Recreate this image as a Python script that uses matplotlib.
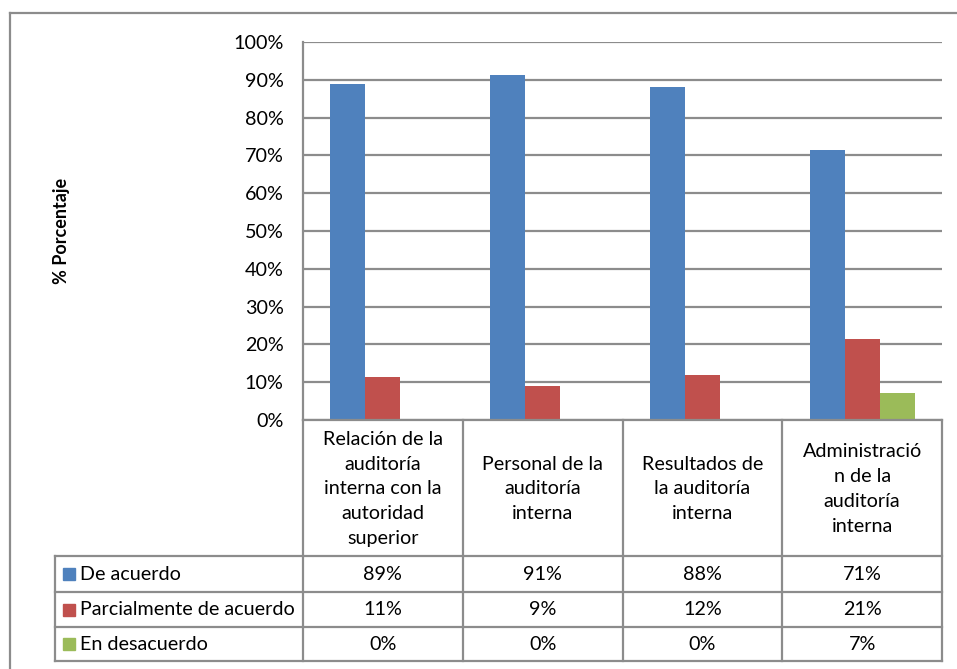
import numpy as np
import matplotlib
matplotlib.use("Agg")
from matplotlib import pyplot as plt

categorias = ["Relación de la\nauditoría\ninterna con la\nautoridad\nsuperior",
              "Personal de la\nauditoría\ninterna",
              "Resultados de\nla auditoría\ninterna",
              "Administració\nn de la\nauditoría\ninterna"]
series = ["De acuerdo", "Parcialmente de acuerdo", "En desacuerdo"]
de_acuerdo = [0.889, 0.913, 0.881, 0.714]
parcial = [0.114, 0.090, 0.119, 0.214]
desacuerdo = [0.0, 0.0, 0.0, 0.071]
tabla = [["89%", "91%", "88%", "71%"],
         ["11%", "9%", "12%", "21%"],
         ["0%", "0%", "0%", "7%"]]
colores = ["#4F81BD", "#C0504D", "#9BBB59"]

plt.rcParams['font.family'] = ['Lato', 'DejaVu Sans']
fs = 14.2
W, H = 957, 669
fig = plt.figure(figsize=(W / 100, H / 100), dpi=100)

# plot area in pixels
px0, px1, py_top, py_bot = 303, 942, 42, 420
ax = fig.add_axes([px0 / W, (H - py_bot) / H, (px1 - px0) / W, (py_bot - py_top) / H])
x = np.arange(len(categorias))
w = 0.219
for i, vals in enumerate([de_acuerdo, parcial, desacuerdo]):
    ax.bar(x + (i - 1) * w, vals, w, color=colores[i], zorder=3)
ax.set_xlim(-0.5, len(categorias) - 0.5)
ax.set_ylim(0, 1)
ax.set_yticks(np.arange(0, 1.01, 0.1))
ax.set_yticklabels([f"{int(round(v * 100))}%" for v in np.arange(0, 1.01, 0.1)], fontsize=fs)
ax.tick_params(axis='y', length=0, pad=14)
ax.set_xticks([])
ax.grid(axis='y', color='#8c8c8c', linewidth=1.6, zorder=0)
for s in ['top', 'right', 'bottom']:
    ax.spines[s].set_visible(False)
ax.spines['left'].set_color('#8c8c8c')
ax.spines['left'].set_linewidth(1.6)

# overlay in pixel coordinates for the data table and frame
ov = fig.add_axes([0, 0, 1, 1], zorder=5)
ov.set_xlim(0, W)
ov.set_ylim(H, 0)
ov.axis('off')
ov.patch.set_alpha(0)
lc = '#8c8c8c'
# outer frame
ov.plot([10, W], [13, 13], color=lc, lw=1.6)
ov.plot([10, 10], [13, H], color=lc, lw=1.6)

cols = np.linspace(px0, px1, len(categorias) + 1)
rows = [556, 592, 627, 661]
tx0 = 55
ov.plot([px0, px1], [py_bot, py_bot], color=lc, lw=1.6)
for c in cols:
    ov.plot([c, c], [py_bot, rows[-1]], color=lc, lw=1.6)
for r in rows:
    ov.plot([tx0, px1], [r, r], color=lc, lw=1.6)
ov.plot([tx0, tx0], [rows[0], rows[-1]], color=lc, lw=1.6)

for j, cat in enumerate(categorias):
    ov.text((cols[j] + cols[j + 1]) / 2, (py_bot + rows[0]) / 2 + 1, cat,
            ha='center', va='center', fontsize=fs, linespacing=1.55)
for i, nombre in enumerate(series):
    yc = (rows[i] + rows[i + 1]) / 2
    ov.add_patch(plt.Rectangle((63, yc - 6), 12, 12, color=colores[i]))
    ov.text(80, yc, nombre, ha='left', va='center', fontsize=fs)
    for j in range(len(categorias)):
        ov.text((cols[j] + cols[j + 1]) / 2, yc, tabla[i][j], ha='center', va='center', fontsize=fs)

ov.text(62, 231, "% Porcentaje", rotation=90, ha='center', va='center',
        fontsize=13, fontweight='bold')

fig.savefig("out.png", dpi=100)
